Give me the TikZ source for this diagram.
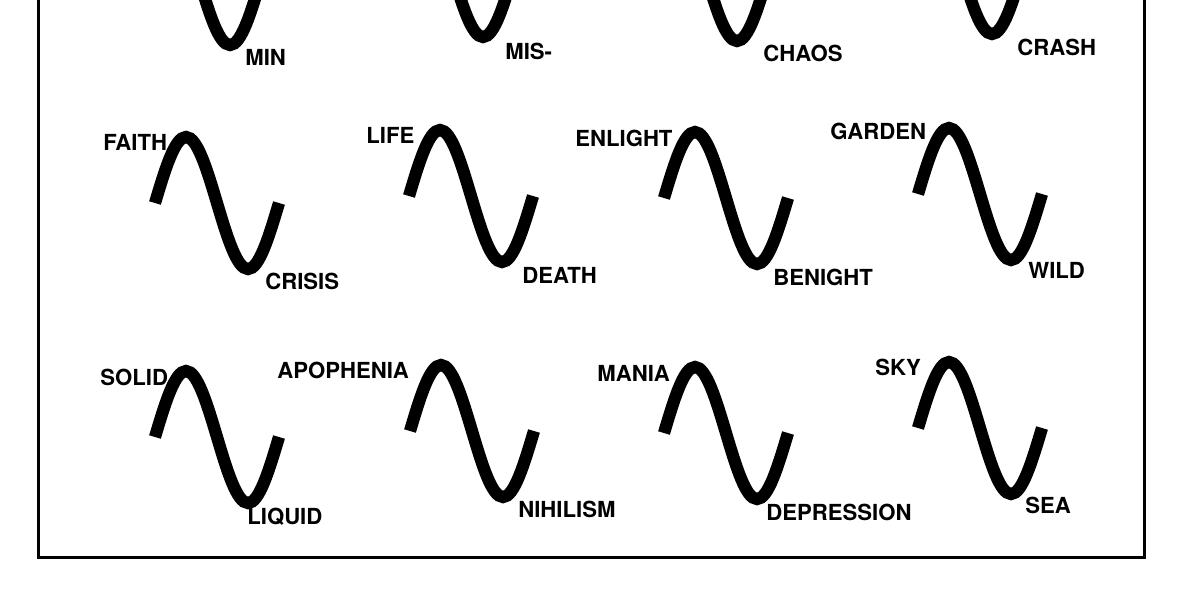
\documentclass[tikz,border=0pt]{standalone}
\usepackage{fontspec}
\setsansfont{TeX Gyre Heros}
\usepackage{tikz}
\tikzset{every picture/.prefix style={execute at begin picture={\sffamily}},
         every node/.append style={execute at begin node={\sffamily\bfseries}}}

\begin{document}
\begin{tikzpicture}[x=0.02cm,y=-0.02cm,lab/.style={font=\fontsize{12.6}{14}\selectfont,inner sep=0pt,anchor=base west},wave/.style={line width=0.245cm}]
\useasboundingbox (0,0) rectangle (1200,600);
\clip (0,0) rectangle (1200,600);
\fill[white] (0,0) rectangle (1200,600);
\draw[line width=0.06cm] (38,-20) rectangle (1144,557);
\foreach \x/\y in {137/-21,390/-29,644/-25,899/-32,155/203,409/196,664/198,918/194,155/437,410/431,664/433,918/428}
  \draw[wave] (\x,\y) sin ++(31,-66) cos ++(31,66) sin ++(31,66) cos ++(31,-66);
\node[lab] (min) at (245,65) {MIN};
\node[lab] (mis) at (505,59) {MIS-};
\node[lab] (chaos) at (763,61) {CHAOS};
\node[lab] (crash) at (1017,55) {CRASH};
\node[lab] (faith) at (103,150) {FAITH};
\node[lab] (crisis) at (265,289) {CRISIS};
\node[lab] (life) at (366,143) {LIFE};
\node[lab] (death) at (522,283) {DEATH};
\node[lab] (enlight) at (575,146) {ENLIGHT};
\node[lab] (benight) at (773,285) {BENIGHT};
\node[lab] (garden) at (830,139) {GARDEN};
\node[lab] (wild) at (1028,278) {WILD};
\node[lab] (solid) at (100,385) {SOLID};
\node[lab] (liquid) at (247,524) {LIQUID};
\node[lab] (apophenia) at (277,378) {APOPHENIA};
\node[lab] (nihilism) at (518,517) {NIHILISM};
\node[lab] (mania) at (597,381) {MANIA};
\node[lab] (depression) at (766,520) {DEPRESSION};
\node[lab] (sky) at (875,375) {SKY};
\node[lab] (sea) at (1025,513) {SEA};
\end{tikzpicture}
\end{document}
